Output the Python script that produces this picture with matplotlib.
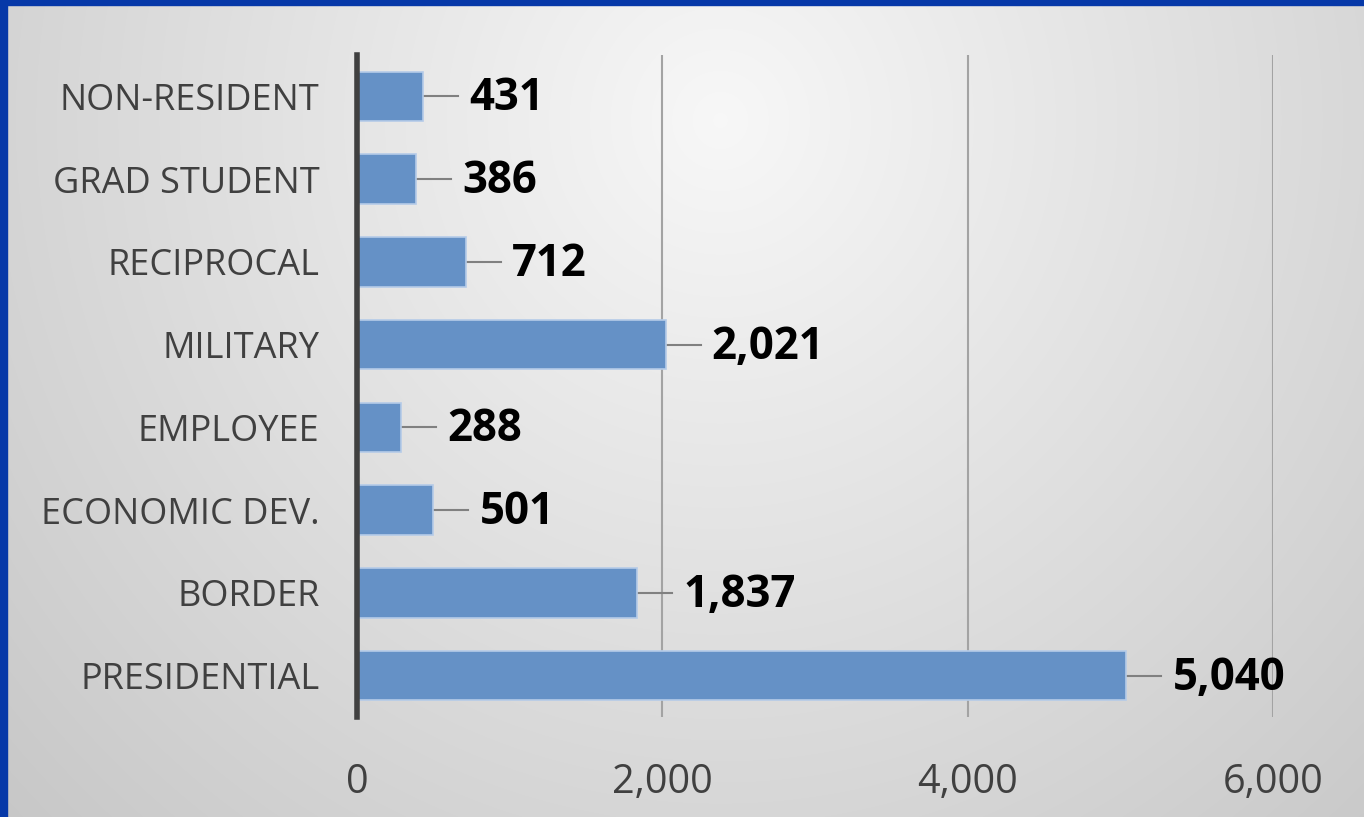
import numpy as np
import matplotlib.pyplot as plt
from matplotlib.patches import Rectangle

categories = ['PRESIDENTIAL', 'BORDER', 'ECONOMIC DEV.', 'EMPLOYEE',
              'MILITARY', 'RECIPROCAL', 'GRAD STUDENT', 'NON-RESIDENT']
counts = [5040, 1837, 501, 288, 2021, 712, 386, 431]
x_ticks = [0, 2000, 4000, 6000]

plt.rcParams['font.family'] = ['Open Sans', 'DejaVu Sans']

W, H = 1364, 817
fig = plt.figure(figsize=(W / 100, H / 100), dpi=100)

# soft radial grey background, lightest near the top middle
bg = fig.add_axes([0, 0, 1, 1], zorder=-10)
px_x, px_y = np.meshgrid(np.arange(W), np.arange(H))
r = np.sqrt(((px_x - 720) / 680) ** 2 + ((px_y - 120) / 700) ** 2)
shade = np.clip(0.97 - 0.13 * r, 0, 1)
bg.imshow(np.dstack([shade] * 3), aspect='auto', extent=[0, 1, 0, 1], origin='upper')
bg.set_axis_off()
# blue frame on left and top
fig.patches.append(Rectangle((0, 0), 7 / W, 1, transform=fig.transFigure,
                             color='#0638a8', zorder=5))
fig.patches.append(Rectangle((0, 1 - 5 / H), 1, 5 / H, transform=fig.transFigure,
                             color='#0638a8', zorder=5))

ax = fig.add_axes([357 / W, 1 - 717 / H, (1273 - 357) / W, (717 - 55) / H])
ax.patch.set_alpha(0)

y = np.arange(len(categories))
ax.barh(y, counts, height=0.6, color='#6591c6', edgecolor='#b5cbe8', linewidth=1.2, zorder=3)

ax.set_xlim(0, 6000)
ax.set_ylim(-0.5, len(categories) - 0.5)
ax.set_xticks(x_ticks)
ax.set_xticklabels([f'{v:,}' for v in x_ticks])
ax.set_yticks(y)
ax.set_yticklabels(categories)
ax.tick_params(axis='both', length=0, labelsize=26, labelcolor='#404040')
ax.tick_params(axis='x', pad=33, labelsize=28.5)
ax.tick_params(axis='y', pad=27)

ax.grid(axis='x', color='#a3a3a3', linewidth=1.5, zorder=1)
for s in ['top', 'right', 'bottom']:
    ax.spines[s].set_visible(False)
ax.spines['left'].set_color('#404040')
ax.spines['left'].set_linewidth(4)
ax.spines['left'].set_zorder(4)

# data labels with short leader lines
px = 6000 / (1273 - 357)
for yi, v in zip(y, counts):
    ax.plot([v, v + 35 * px], [yi, yi], color='#808080', linewidth=1.5, zorder=2)
    ax.text(v + 46 * px, yi - 0.03, f'{v:,}', ha='left', va='center',
            fontsize=31.5, fontweight='bold', color='black', zorder=5)

fig.savefig('out.png', dpi=100)
